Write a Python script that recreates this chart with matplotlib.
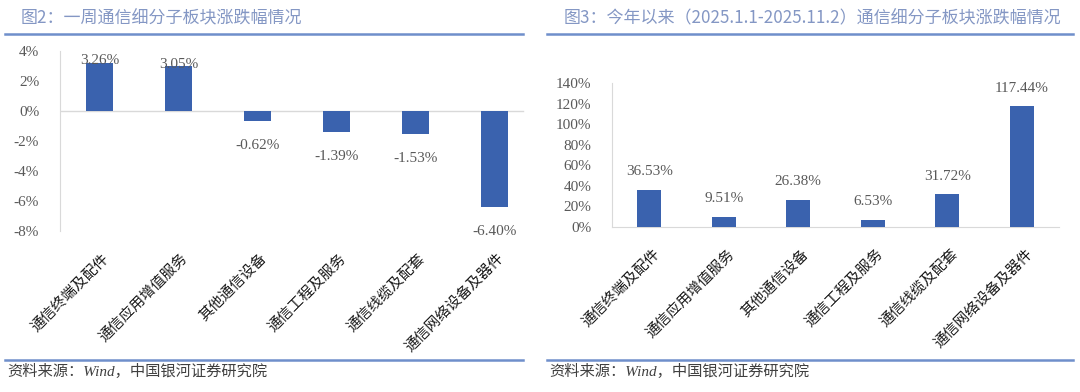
import matplotlib
matplotlib.use("Agg")
import matplotlib.pyplot as plt
from matplotlib.lines import Line2D

plt.rcParams['font.family'] = ['Liberation Serif', 'Noto Sans CJK SC', 'DejaVu Sans']

categories = ["通信终端及配件", "通信应用增值服务", "其他通信设备",
              "通信工程及服务", "通信线缆及配套", "通信网络设备及器件"]
week_values = [3.26, 3.05, -0.62, -1.39, -1.53, -6.40]
ytd_values = [36.53, 9.51, 26.38, 6.53, 31.72, 117.44]
left_ticks = [4, 2, 0, -2, -4, -6, -8]
right_ticks = [0, 20, 40, 60, 80, 100, 120, 140]
title_left = "图2：一周通信细分子板块涨跌幅情况"
title_right = "图3：今年以来（2025.1.1-2025.11.2）通信细分子板块涨跌幅情况"
source_text = "资料来源：Wind，中国银河证券研究院"

W, H = 1080, 392
BAR = "#3A62AE"
TICKC = "#595959"
AXC = "#D9D9D9"
TITLEC = "#8497C4"
LINEC = "#6F8FCB"
CJK = ['Noto Sans CJK SC', 'DejaVu Sans']

fig = plt.figure(figsize=(W / 100, H / 100), dpi=100)
fig.patch.set_facecolor("white")

def fx(px):
    return px / W

def fy(py):
    return 1 - py / H

# header / footer decorations
for x0, x1, tx, sx, title in [(5, 523, 20.5, 7, title_left),
                              (547, 1073, 563.5, 549.5, title_right)]:
    fig.add_artist(Line2D([fx(x0), fx(x1)], [fy(33.5), fy(33.5)], color=LINEC, lw=1.8))
    fig.add_artist(Line2D([fx(x0), fx(x1)], [fy(359.5), fy(359.5)], color=LINEC, lw=1.8))
    fig.text(fx(tx), fy(18.5), title, color=TITLEC, fontsize=12.25, family=CJK,
             ha='left', va='center')
    fig.text(fx(sx), fy(371), source_text, color="#404040", fontsize=11,
             family=['Liberation Serif', 'Noto Sans CJK SC'], style='italic',
             ha='left', va='center')

x = list(range(len(categories)))

# Left chart
L0, L1, LB, LT = 60, 534, 231.5, 51.5
axl = fig.add_axes([fx(L0), fy(LB), fx(L1 - L0), (LB - LT) / H])
axl.bar(x, week_values, width=0.335, color=BAR, zorder=3)
axl.set_xlim(-0.5, 5.5)
axl.set_ylim(-8, 4)
axl.set_yticks(left_ticks)
axl.set_yticklabels([f"{t}%" for t in left_ticks])
axl.axhline(0, xmin=0, xmax=(523 - L0) / (L1 - L0), color=AXC, lw=1, zorder=2)
for s in ['top', 'right', 'bottom']:
    axl.spines[s].set_visible(False)
axl.spines['left'].set_color(AXC)
axl.tick_params(axis='y', length=0, pad=15, labelsize=11, labelcolor=TICKC)
axl.tick_params(axis='x', length=0)
axl.set_xticks(x)
axl.set_xticklabels([])
axl.patch.set_alpha(0)
for xi, v in zip(x, week_values):
    if v >= 0:
        axl.annotate(f"{v:.2f}%", (xi, v), xytext=(0, 1.2), textcoords='offset points',
                     ha='center', va='center', fontsize=11, color=TICKC)
    else:
        axl.annotate(f"{v:.2f}%", (xi, v), xytext=(0, -17.5), textcoords='offset points',
                     ha='center', va='center', fontsize=11, color=TICKC)
for xi, c in zip(x, categories):
    axl.annotate(c, (xi, -8), xytext=(1.5, -14), textcoords='offset points',
                 ha='right', va='top', rotation=45, rotation_mode='anchor',
                 fontsize=10.6, family=CJK, color="#1a1a1a")

# Right chart
R0, R1, RB, RT = 612, 1059, 227, 83.3
axr = fig.add_axes([fx(R0), fy(RB), fx(R1 - R0), (RB - RT) / H])
axr.bar(x, ytd_values, width=0.32, color=BAR, zorder=3)
axr.set_xlim(-0.5, 5.5)
axr.set_ylim(0, 140)
axr.set_yticks(right_ticks)
axr.set_yticklabels([f"{t}%" for t in right_ticks])
for s in ['top', 'right']:
    axr.spines[s].set_visible(False)
axr.spines['left'].set_color(AXC)
axr.spines['bottom'].set_color(AXC)
axr.tick_params(axis='y', length=0, pad=15, labelsize=11, labelcolor=TICKC)
axr.tick_params(axis='x', length=0)
axr.set_xticks(x)
axr.set_xticklabels([])
axr.patch.set_alpha(0)
for xi, v in zip(x, ytd_values):
    axr.annotate(f"{v:.2f}%", (xi, v), xytext=(0, 13.2), textcoords='offset points',
                 ha='center', va='center', fontsize=11, color=TICKC)
for xi, c in zip(x, categories):
    axr.annotate(c, (xi, 0), xytext=(2.5, -14), textcoords='offset points',
                 ha='right', va='top', rotation=45, rotation_mode='anchor',
                 fontsize=10.6, family=CJK, color="#1a1a1a")

fig.savefig("out.png", dpi=100, facecolor="white")
